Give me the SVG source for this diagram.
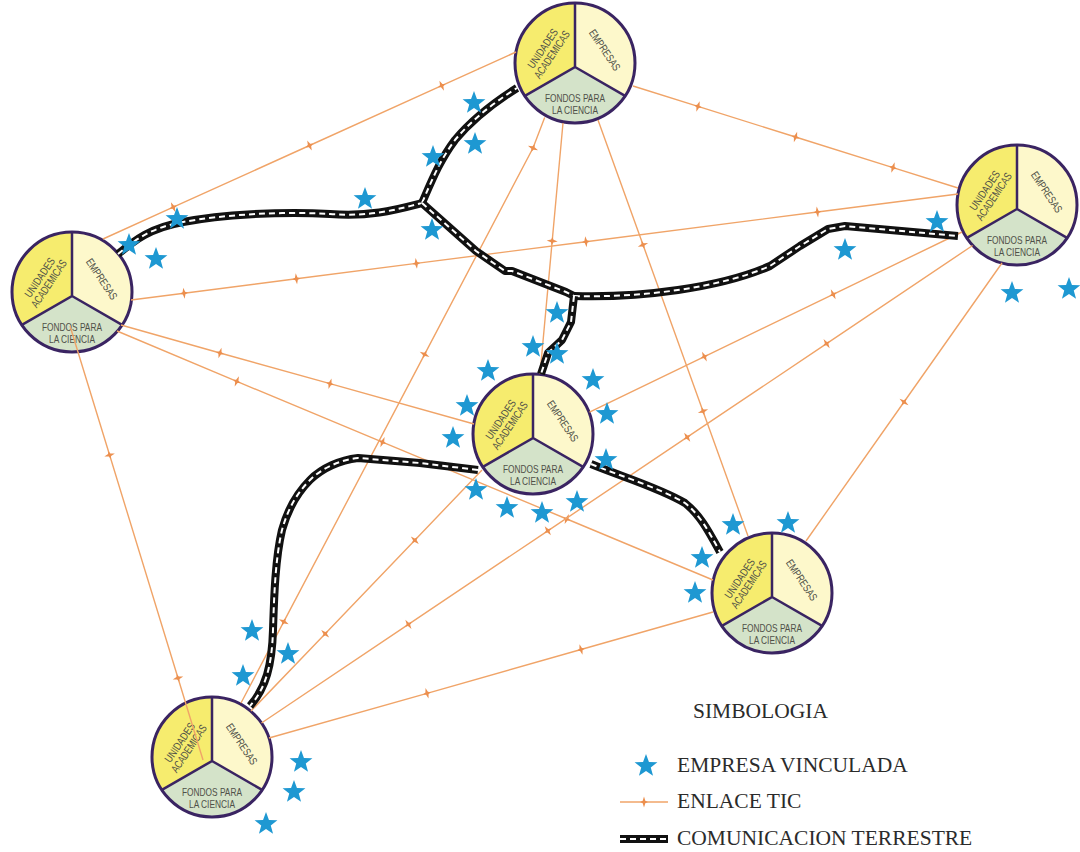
<svg xmlns="http://www.w3.org/2000/svg" xmlns:xlink="http://www.w3.org/1999/xlink" width="1080" height="852" viewBox="0 0 1080 852">
<style>
.tic{fill:none;stroke:#F0A468;stroke-width:1.4;marker-mid:url(#tic)}
.road{fill:none;stroke:#111;stroke-width:8;stroke-linejoin:round;stroke-linecap:butt}
.dash{fill:none;stroke:#fff;stroke-width:2;stroke-dasharray:6 4}
.nt{font-family:"Liberation Sans",Arial,sans-serif;font-size:11px;fill:#4f5048;text-anchor:middle}
.lg{font-family:"Liberation Serif","Times New Roman",serif;font-size:21.5px;fill:#2b2b2b}
.star{fill:#1E98D2}
</style>
<defs>
<marker id="tic" viewBox="-5 -6 10 12" markerWidth="10" markerHeight="12" refX="0" refY="0" orient="auto" markerUnits="userSpaceOnUse">
<path d="M0,-5.5 L1.3,-1.2 L4,0 L1.3,1.2 L0,5.5 L-1.3,1.2 L-4,0 L-1.3,-1.2 Z" fill="#EC8F4E"/>
</marker>
<g id="pie">
<path d="M0,4 L0,-60 A60,60 0 0 0 -50.1,32.9 Z" fill="#F6EC6E"/>
<path d="M0,4 L0,-60 A60,60 0 0 1 50.1,32.9 Z" fill="#FDF8CB"/>
<path d="M0,4 L-50.1,32.9 A60,60 0 0 0 50.1,32.9 Z" fill="#D4E3C9"/>
<path d="M0,-60 L0,4 L-50.1,32.9 M0,4 L50.1,32.9" fill="none" stroke="#3A2462" stroke-width="2.5"/>
<circle r="60" fill="none" stroke="#3A2462" stroke-width="3"/>
</g>
<path id="star" d="M0,-12 L2.94,-4.05 L11.41,-3.71 L4.76,1.55 L7.05,9.71 L0,5 L-7.05,9.71 L-4.76,1.55 L-11.41,-3.71 L-2.94,-4.05 Z"/>
<path id="rd1" d="M118,254 C135,240 150,228 183,222 C220,215 280,211 330,214 C370,217 395,210 422,203"/>
<path id="rd2" d="M422,203 C432,180 440,160 455,140 C470,122 490,105 517,88"/>
<path id="rd3" d="M422,203 L476,251 L505,271 L512,271 L566,292 L574,296"/>
<path id="rd4" d="M574,296 C640,298 720,288 770,266 L800,246 L828,229 L845,226 L958,236"/>
<path id="rd5" d="M574,296 L571,322 L562,340 L548,353 L541,374"/>
<path id="rd6" d="M478,470 L420,463 L358,458 C340,460 322,468 310,480 C295,495 287,512 282,530 C275,560 274,600 273,630 C272,665 266,688 250,706"/>
<path id="rd7" d="M591,464 C620,476 660,488 685,503 C700,515 708,530 720,552"/>
</defs>

<g id="node-top" transform="translate(575,63)">
<use href="#pie"/>
<g transform="rotate(-56)"><text class="nt" x="-6" y="-31" textLength="45" lengthAdjust="spacingAndGlyphs">UNIDADES</text><text class="nt" x="-6" y="-20" textLength="55" lengthAdjust="spacingAndGlyphs">ACADEMICAS</text></g>
<text class="nt" transform="rotate(56)" x="6" y="-28" textLength="47" lengthAdjust="spacingAndGlyphs">EMPRESAS</text>
<text class="nt" x="0" y="39" textLength="60" lengthAdjust="spacingAndGlyphs">FONDOS PARA</text>
<text class="nt" x="0" y="51" textLength="46" lengthAdjust="spacingAndGlyphs">LA CIENCIA</text>
</g>
<g id="node-left" transform="translate(72,292)">
<use href="#pie"/>
<g transform="rotate(-56)"><text class="nt" x="-6" y="-31" textLength="45" lengthAdjust="spacingAndGlyphs">UNIDADES</text><text class="nt" x="-6" y="-20" textLength="55" lengthAdjust="spacingAndGlyphs">ACADEMICAS</text></g>
<text class="nt" transform="rotate(56)" x="6" y="-28" textLength="47" lengthAdjust="spacingAndGlyphs">EMPRESAS</text>
<text class="nt" x="0" y="39" textLength="60" lengthAdjust="spacingAndGlyphs">FONDOS PARA</text>
<text class="nt" x="0" y="51" textLength="46" lengthAdjust="spacingAndGlyphs">LA CIENCIA</text>
</g>
<g id="node-right" transform="translate(1017,205)">
<use href="#pie"/>
<g transform="rotate(-56)"><text class="nt" x="-6" y="-31" textLength="45" lengthAdjust="spacingAndGlyphs">UNIDADES</text><text class="nt" x="-6" y="-20" textLength="55" lengthAdjust="spacingAndGlyphs">ACADEMICAS</text></g>
<text class="nt" transform="rotate(56)" x="6" y="-28" textLength="47" lengthAdjust="spacingAndGlyphs">EMPRESAS</text>
<text class="nt" x="0" y="39" textLength="60" lengthAdjust="spacingAndGlyphs">FONDOS PARA</text>
<text class="nt" x="0" y="51" textLength="46" lengthAdjust="spacingAndGlyphs">LA CIENCIA</text>
</g>
<g id="node-center" transform="translate(533,434)">
<use href="#pie"/>
<g transform="rotate(-56)"><text class="nt" x="-6" y="-31" textLength="45" lengthAdjust="spacingAndGlyphs">UNIDADES</text><text class="nt" x="-6" y="-20" textLength="55" lengthAdjust="spacingAndGlyphs">ACADEMICAS</text></g>
<text class="nt" transform="rotate(56)" x="6" y="-28" textLength="47" lengthAdjust="spacingAndGlyphs">EMPRESAS</text>
<text class="nt" x="0" y="39" textLength="60" lengthAdjust="spacingAndGlyphs">FONDOS PARA</text>
<text class="nt" x="0" y="51" textLength="46" lengthAdjust="spacingAndGlyphs">LA CIENCIA</text>
</g>
<g id="node-lowright" transform="translate(772,593)">
<use href="#pie"/>
<g transform="rotate(-56)"><text class="nt" x="-6" y="-31" textLength="45" lengthAdjust="spacingAndGlyphs">UNIDADES</text><text class="nt" x="-6" y="-20" textLength="55" lengthAdjust="spacingAndGlyphs">ACADEMICAS</text></g>
<text class="nt" transform="rotate(56)" x="6" y="-28" textLength="47" lengthAdjust="spacingAndGlyphs">EMPRESAS</text>
<text class="nt" x="0" y="39" textLength="60" lengthAdjust="spacingAndGlyphs">FONDOS PARA</text>
<text class="nt" x="0" y="51" textLength="46" lengthAdjust="spacingAndGlyphs">LA CIENCIA</text>
</g>
<g id="node-bottomleft" transform="translate(212,757)">
<use href="#pie"/>
<g transform="rotate(-56)"><text class="nt" x="-6" y="-31" textLength="45" lengthAdjust="spacingAndGlyphs">UNIDADES</text><text class="nt" x="-6" y="-20" textLength="55" lengthAdjust="spacingAndGlyphs">ACADEMICAS</text></g>
<text class="nt" transform="rotate(56)" x="6" y="-28" textLength="47" lengthAdjust="spacingAndGlyphs">EMPRESAS</text>
<text class="nt" x="0" y="39" textLength="60" lengthAdjust="spacingAndGlyphs">FONDOS PARA</text>
<text class="nt" x="0" y="51" textLength="46" lengthAdjust="spacingAndGlyphs">LA CIENCIA</text>
</g>

<g id="connectors">
<polyline class="tic" points="516,52 441.7,85.7 309.5,145.5 173.2,207.2 103,239"/>
<polyline class="tic" points="633,86 698,106.4 795.5,137 893,167.6 958,188"/>
<polyline class="tic" points="563,123 552.2,241 540,374"/>
<polyline class="tic" points="598,120 643,244.8 703,411.2 748,536"/>
<polyline class="tic" points="544.7,117.6 533,148 424.6,354.4 283.8,621.7 241,703"/>
<polyline class="tic" points="131,300 184,293.2 296.4,278.8 416.3,263.4 585.9,241.7 817.4,212 958,194"/>
<polyline class="tic" points="121,325 220,353 330,383.7 474,424"/>
<polyline class="tic" points="117,331 236.8,381.4 382.5,442.1 566.8,519 713,580"/>
<polyline class="tic" points="70,326 109.6,455 178,678 203,760"/>
<polyline class="tic" points="962,232 833.2,294.3 704.4,356.6 589.5,412.2"/>
<polyline class="tic" points="1002,263 904,402 806,541"/>
<polyline class="tic" points="972.6,245.5 826.6,343.6 687.2,437.2 547.8,530.8 408.4,624.4 261.5,723"/>
<polyline class="tic" points="482,470 414.8,540.2 325.2,633.8 251,711"/>
<polyline class="tic" points="713,612 581,649.5 427,693.3 269,738"/>
</g>

<g id="roads">
<use href="#rd1" class="road"/><use href="#rd1" class="dash"/>
<use href="#rd2" class="road"/><use href="#rd2" class="dash"/>
<use href="#rd3" class="road"/><use href="#rd3" class="dash"/>
<use href="#rd4" class="road"/><use href="#rd4" class="dash"/>
<use href="#rd5" class="road"/><use href="#rd5" class="dash"/>
<use href="#rd6" class="road"/><use href="#rd6" class="dash"/>
<use href="#rd7" class="road"/><use href="#rd7" class="dash"/>
</g>

<g id="stars" class="star">
<use href="#star" x="474" y="103"/><use href="#star" x="475" y="144"/><use href="#star" x="433" y="157"/><use href="#star" x="365" y="199"/><use href="#star" x="432" y="230"/>
<use href="#star" x="177" y="219"/><use href="#star" x="129" y="245"/><use href="#star" x="156" y="259"/>
<use href="#star" x="937" y="222"/><use href="#star" x="845" y="250"/><use href="#star" x="1012" y="293"/><use href="#star" x="1069" y="289"/>
<use href="#star" x="557" y="313"/><use href="#star" x="533" y="347"/><use href="#star" x="557" y="354"/><use href="#star" x="488" y="371"/><use href="#star" x="593" y="380"/><use href="#star" x="467" y="406"/><use href="#star" x="453" y="438"/><use href="#star" x="607" y="414"/><use href="#star" x="606" y="460"/><use href="#star" x="476" y="490"/><use href="#star" x="507" y="508"/><use href="#star" x="542" y="513"/><use href="#star" x="577" y="502"/>
<use href="#star" x="733" y="525"/><use href="#star" x="788" y="523"/><use href="#star" x="702" y="558"/><use href="#star" x="695" y="593"/>
<use href="#star" x="252" y="631"/><use href="#star" x="288" y="654"/><use href="#star" x="243" y="676"/><use href="#star" x="301" y="762"/><use href="#star" x="294" y="792"/><use href="#star" x="266" y="824"/>
</g>

<g id="legend">
<text class="lg" x="693" y="718">SIMBOLOGIA</text>
<use href="#star" class="star" x="646" y="766"/>
<text class="lg" x="677" y="772">EMPRESA VINCULADA</text>
<polyline class="tic" points="620,802 644,802 668,802"/>
<text class="lg" x="677" y="808">ENLACE TIC</text>
<path class="road" d="M620,839 L668,839"/><path class="dash" d="M620,839 L668,839"/>
<text class="lg" x="677" y="845">COMUNICACION TERRESTRE</text>
</g>
</svg>
